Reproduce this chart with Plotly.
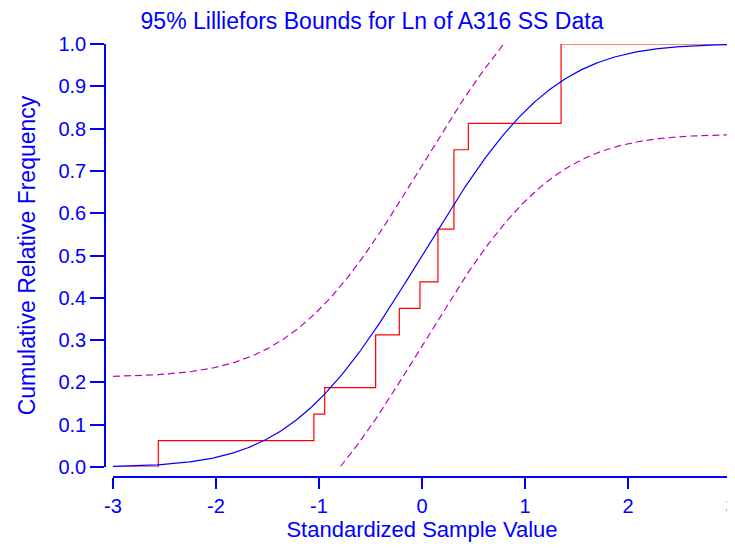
import math
import plotly.graph_objects as go

# Standardized sample values (sorted), n = 16
sample_values = [-2.56, -1.05, -0.945, -0.45, -0.45, -0.22, -0.02, 0.155, 0.155,
                 0.31, 0.31, 0.31, 0.45, 1.35, 1.35, 1.35]
lilliefors_d = 0.213   # 95% critical value for n = 16
x_min, x_max = -3.0, 3.0
x_ticks = [-3, -2, -1, 0, 1, 2, 3]
y_ticks = [0.0, 0.1, 0.2, 0.3, 0.4, 0.5, 0.6, 0.7, 0.8, 0.9, 1.0]
y_tick_labels = ["0.0", "0.1", "0.2", "0.3", "0.4", "0.5", "0.6", "0.7", "0.8", "0.9", "1.0"]

BLUE = "#0000FF"
RED = "#FF0000"
MAG = "#C000C0"
FONT = "Liberation Sans, Arial, sans-serif"

def phi(x):
    return 0.5 * (1 + math.erf(x / math.sqrt(2)))

# ECDF step
n = len(sample_values)
ex = [x_min]
ey = [0.0]
for i, v in enumerate(sample_values):
    ex.append(v)
    ey.append(i / n)
    ex.append(v)
    ey.append((i + 1) / n)
ex.append(x_max)
ey.append(1.0)

# Normal CDF and bounds
N = 601
gx = [x_min + (x_max - x_min) * i / (N - 1) for i in range(N)]
cdf = [phi(x) for x in gx]
ux, uy, lx, ly = [], [], [], []
for x, c in zip(gx, cdf):
    if c + lilliefors_d <= 1.0:
        ux.append(x); uy.append(c + lilliefors_d)
    if c - lilliefors_d >= 0.0:
        lx.append(x); ly.append(c - lilliefors_d)

fig = go.Figure()
fig.add_trace(go.Scatter(x=ux, y=uy, mode="lines",
                         line=dict(color=MAG, width=1.2, dash="7px,4px"), hoverinfo="skip"))
fig.add_trace(go.Scatter(x=lx, y=ly, mode="lines",
                         line=dict(color=MAG, width=1.2, dash="7px,4px"), hoverinfo="skip"))
fig.add_trace(go.Scatter(x=ex, y=ey, mode="lines",
                         line=dict(color=RED, width=1.2), hoverinfo="skip"))
fig.add_trace(go.Scatter(x=gx, y=cdf, mode="lines",
                         line=dict(color=BLUE, width=1.2), hoverinfo="skip"))

# page has an 8px body margin: figure coords = page coords - 8
OFF = 8
W, H = 735 - OFF, 548 - OFF

def px(v):
    return (v - OFF) / W

def py(v):
    return 1 - (v - OFF) / H

fig.update_layout(
    width=W, height=H,
    margin=dict(l=0, r=0, t=0, b=0),
    paper_bgcolor="white", plot_bgcolor="white",
    showlegend=False,
    font=dict(family=FONT, color=BLUE, size=20),
    title=dict(text="95% Lilliefors Bounds for Ln of A316 SS Data",
               x=px(372), xanchor="center", y=py(21), yanchor="middle",
               font=dict(family=FONT, size=23, color=BLUE)),
    xaxis=dict(
        domain=[px(113), px(731)], range=[x_min, x_max],
        anchor="free", position=py(477), automargin=False,
        showline=True, linecolor=BLUE, linewidth=1.5,
        ticks="outside", ticklen=11, tickwidth=1.5, tickcolor=BLUE,
        tickvals=x_ticks, ticktext=[str(t) for t in x_ticks],
        tickfont=dict(family=FONT, size=20, color=BLUE),
        ticklabeloverflow="allow",
        showgrid=False, zeroline=False,
        title=dict(text="Standardized Sample Value", standoff=5,
                   font=dict(family=FONT, size=22, color=BLUE)),
    ),
    yaxis=dict(
        domain=[py(467), py(44)], range=[0, 1],
        anchor="free", position=px(105), automargin=False,
        showline=True, linecolor=BLUE, linewidth=1.5,
        ticks="outside", ticklen=14, tickwidth=1.5, tickcolor=BLUE,
        tickvals=y_ticks, ticktext=y_tick_labels,
        tickfont=dict(family=FONT, size=20, color=BLUE),
        ticklabeloverflow="allow",
        showgrid=False, zeroline=False,
        title=dict(text="Cumulative Relative Frequency", standoff=15,
                   font=dict(family=FONT, size=23, color=BLUE)),
    ),
)
fig.update_traces(cliponaxis=False)
fig.write_html("out.html")
